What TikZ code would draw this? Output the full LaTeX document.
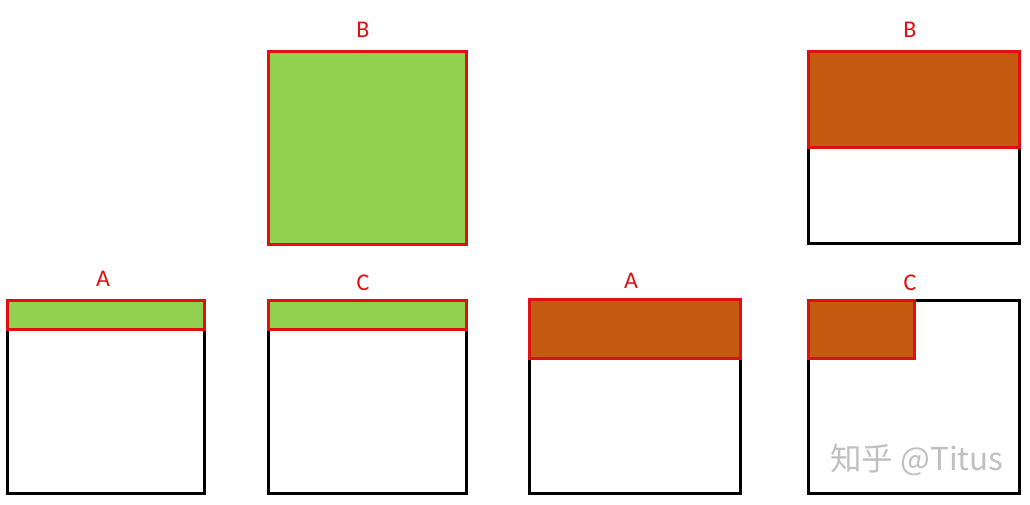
\documentclass[tikz,border=0pt]{standalone}
\usepackage{fontspec}
\setmainfont{Carlito}
\newfontfamily\cjkwm{Noto Sans CJK SC}
\definecolor{lgreen}{HTML}{92D050}
\definecolor{rust}{HTML}{C55A11}
\definecolor{redline}{HTML}{E01010}
\definecolor{wmgray}{HTML}{C0C0C0}
\begin{document}
\begin{tikzpicture}[x=1pt,y=-1pt,
  outerbox/.style={draw=black,line width=3pt,fill=white,inner sep=0pt,outer sep=0pt,anchor=north west},
  greenpart/.style={draw=redline,line width=3pt,fill=lgreen,inner sep=0pt,outer sep=0pt,anchor=north west},
  rustpart/.style={draw=redline,line width=3pt,fill=rust,inner sep=0pt,outer sep=0pt,anchor=north west},
  lbl/.style={text=redline,font=\fontsize{24}{28}\selectfont,inner sep=0pt}]
\useasboundingbox[fill=white] (0,0) rectangle (1030,504);
% top left B (all green)
\node[greenpart,minimum width=198pt,minimum height=193pt] (bg) at (268,51) {};
\node[lbl] (bgl) at (363,30) {B};
% bottom left A
\node[outerbox,minimum width=197pt,minimum height=193pt] (ao) at (7,300) {};
\node[greenpart,minimum width=197pt,minimum height=29pt] (ag) at (7,300) {};
\node[lbl] (agl) at (103,279) {A};
% bottom left C
\node[outerbox,minimum width=198pt,minimum height=193pt] (co) at (268,300) {};
\node[greenpart,minimum width=198pt,minimum height=29pt] (cg) at (268,300) {};
\node[lbl] (cgl) at (363,283) {C};
% top right B
\node[outerbox,minimum width=211pt,minimum height=192pt] (bo) at (808,51) {};
\node[rustpart,minimum width=211pt,minimum height=96pt] (br) at (808,51) {};
\node[lbl] (brl) at (910,30) {B};
% bottom right A
\node[outerbox,minimum width=211pt,minimum height=194pt] (aro) at (529,299) {};
\node[rustpart,minimum width=211pt,minimum height=59pt] (arr) at (529,299) {};
\node[lbl] (arl) at (631,281) {A};
% bottom right C
\node[outerbox,minimum width=211pt,minimum height=193pt] (cro) at (808,300) {};
\node[rustpart,minimum width=106pt,minimum height=58pt] (crr) at (808,300) {};
\node[lbl] (crl) at (910,283) {C};
% watermark
\node[text=wmgray,font=\cjkwm\fontsize{31.5}{35}\selectfont,inner sep=0pt] (wm) at (917,460) {知乎 @Titus};
\end{tikzpicture}
\end{document}
